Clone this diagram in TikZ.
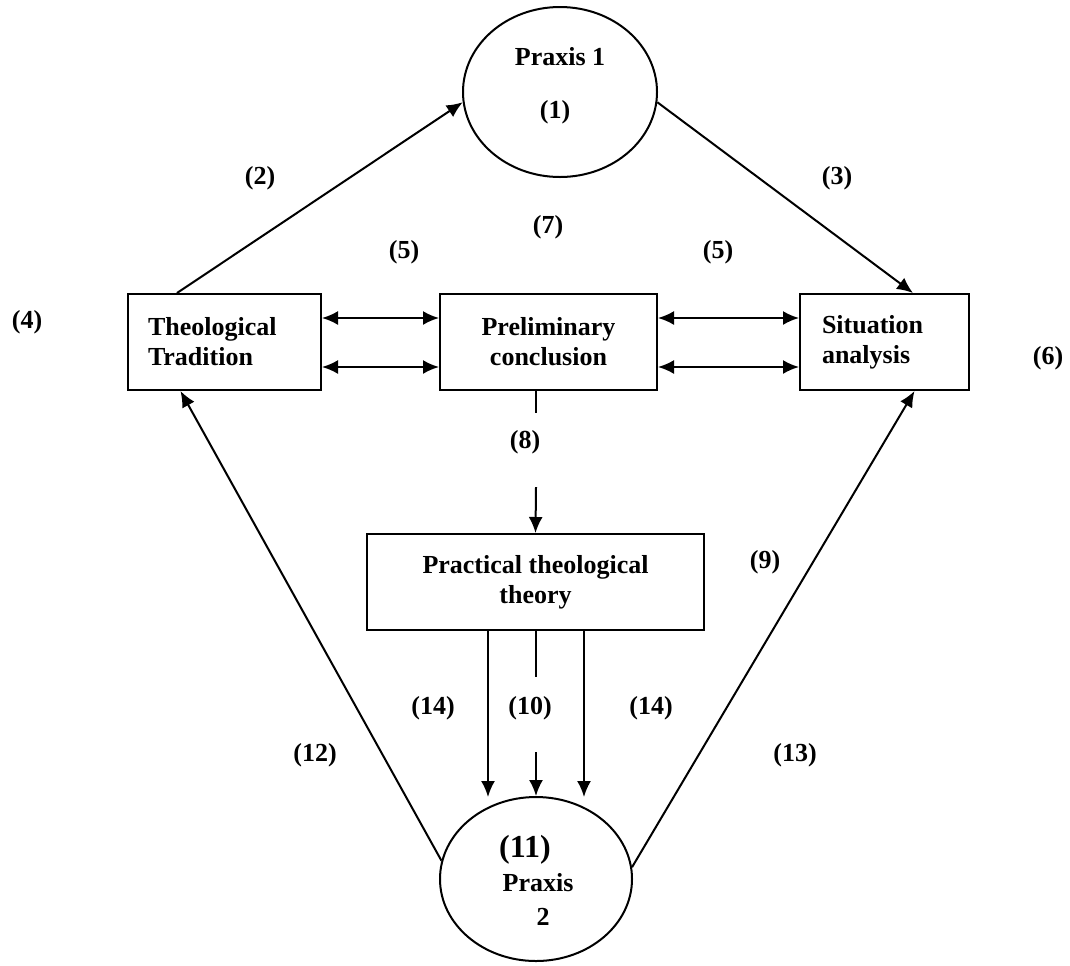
\documentclass[tikz,border=0pt]{standalone}
\usepackage{fontspec}
\setmainfont{Liberation Serif}
\usepackage{tikz}
\usetikzlibrary{shapes, positioning, arrows.meta}

\begin{document}
\begin{tikzpicture}[x=0.5pt, y=-0.5pt, line width=1pt,
        >={Latex[length=8pt, width=7pt]},
        every node/.style={font=\fontsize{13}{15}\selectfont\bfseries},
        lbl/.style={inner sep=0pt},
        praxis/.style={draw, ellipse, minimum width=97pt, minimum height=85pt, inner sep=0pt},
        stage/.style={draw, rectangle, minimum height=48pt, inner sep=0pt}]
        \useasboundingbox (0,0) rectangle (1070,965);

        \node[praxis] (p1) at (560,92) {};
        \node[lbl] (p1t) at (560,57) {Praxis 1};
        \node[praxis, minimum width=96pt, minimum height=82pt] (p2) at (536,879) {};
        \node[lbl] (p2t) at (538,883) {Praxis};
        \node[lbl] (p2n) at (543,917) {2};

        \node[stage, minimum width=96.5pt, text width=76.5pt, inner xsep=10pt, align=left] (theo) at (224.5,342) {Theological\\Tradition};
        \node[stage, minimum width=108.5pt, align=center] (prel) at (548.5,342) {Preliminary\\conclusion};
        \node[stage, minimum width=84.5pt, text width=62.5pt, inner xsep=11pt, align=left] (sit) at (884.5,342) {Situation\\analysis};
        \node[stage, minimum width=168.5pt, align=center] (prac) at (535.5,582) {Practical theological\\theory};

        \coordinate (c8a) at (536,413);
        \coordinate (c8b) at (536,487);
        \coordinate (c10a) at (536,677);
        \coordinate (c10b) at (536,752);
        \coordinate (c14l) at (488,797);
        \coordinate (c14r) at (584,797);

        \draw[->] ([xshift=-23.75pt]theo.north) to (p1.186);
        \draw[->] (p1.354) to ([xshift=14.25pt]sit.north);
        \draw[<->] ([yshift=12pt]theo.east) to ([yshift=12pt]prel.west);
        \draw[<->] ([yshift=-12.5pt]theo.east) to ([yshift=-12.5pt]prel.west);
        \draw[<->] ([yshift=12pt]prel.east) to ([yshift=12pt]sit.west);
        \draw[<->] ([yshift=-12.5pt]prel.east) to ([yshift=-12.5pt]sit.west);
        \draw (prel.south -| c8a) to (c8a);
        \draw[->] (c8b) to (prac.north);
        \draw (prac.south -| c10a) to (c10a);
        \draw[->] (c10b) to (p2.north);
        \draw[->] (prac.south -| c14l) to (c14l);
        \draw[->] (prac.south -| c14r) to (c14r);
        \draw[->] (p2.169) to ([xshift=-22pt]theo.south);
        \draw[->] (p2.7) to ([xshift=15pt]sit.south);

        \node[lbl] (l1) at (555,112) {(1)};
        \node[lbl] (l2) at (260,178) {(2)};
        \node[lbl] (l3) at (837,178) {(3)};
        \node[lbl] (l4) at (27,322) {(4)};
        \node[lbl] (l5a) at (404,252) {(5)};
        \node[lbl] (l5b) at (718,252) {(5)};
        \node[lbl] (l6) at (1048,358) {(6)};
        \node[lbl] (l7) at (548,227) {(7)};
        \node[lbl] (l8) at (525,442) {(8)};
        \node[lbl] (l9) at (765,562) {(9)};
        \node[lbl] (l10) at (530,708) {(10)};
        \node[lbl, font=\fontsize{16}{18}\selectfont\bfseries] (l11) at (525,850) {(11)};
        \node[lbl] (l12) at (315,755) {(12)};
        \node[lbl] (l13) at (795,755) {(13)};
        \node[lbl] (l14a) at (433,708) {(14)};
        \node[lbl] (l14b) at (651,708) {(14)};
    \end{tikzpicture}
\end{document}
